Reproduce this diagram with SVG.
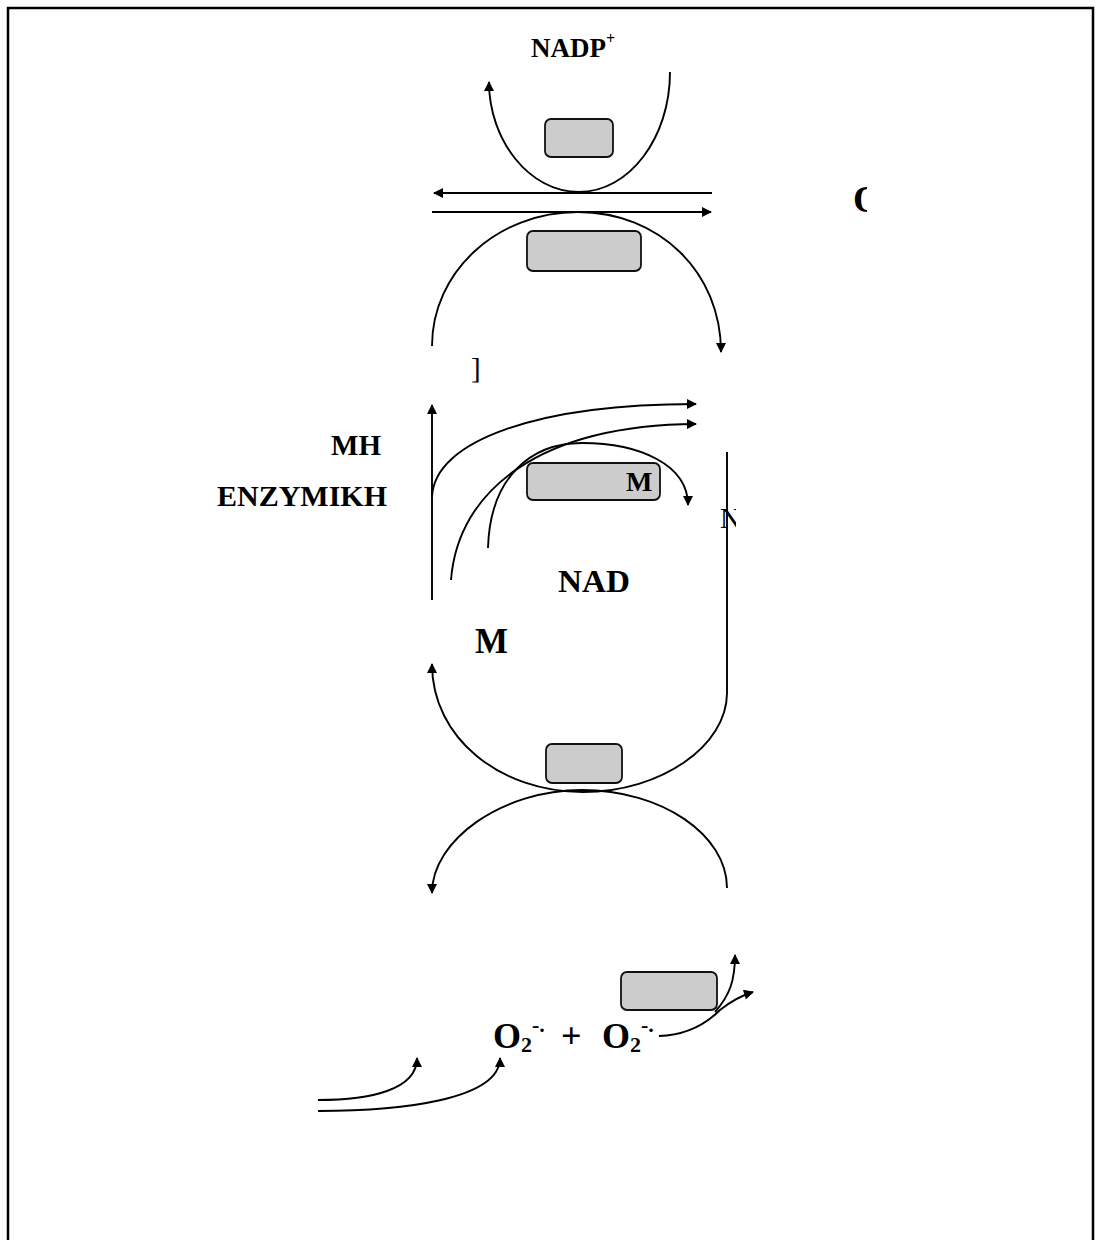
<svg xmlns="http://www.w3.org/2000/svg" width="1100" height="1240" viewBox="0 0 1100 1240">
<style>
.frame{stroke:#000;stroke-width:2.5;fill:none}
.box{fill:#cccccc;stroke:#111;stroke-width:1.8}
.c{fill:none;stroke:#000;stroke-width:1.9}
.t{font-family:"Liberation Serif","Times New Roman",serif;font-weight:bold;fill:#000}
.n{font-family:"Liberation Serif","Times New Roman",serif;font-weight:normal;fill:#000}
</style>
<defs>
<marker id="ah" viewBox="0 0 10 10" refX="9" refY="5" markerWidth="12" markerHeight="10" markerUnits="userSpaceOnUse" orient="auto">
<path d="M0,0 L10,5 L0,10 z" fill="#000"/>
</marker>
<clipPath id="clipN"><rect x="700" y="490" width="36" height="50"/></clipPath>
<clipPath id="clipO"><rect x="840" y="170" width="27" height="60"/></clipPath>
</defs>
<rect width="1100" height="1240" fill="#fff"/>
<g id="frame">
<path class="frame" d="M8,1240 L8,8 L1093,8 L1093,1240"/>
</g>
<g id="connectors">
<path class="c" d="M670,72 C670,138 629,192 579,192 C529,192 489,140 489,82" marker-end="url(#ah)"/>
<path class="c" d="M712,193 L434,193" marker-end="url(#ah)"/>
<path class="c" d="M432,212 L711,212" marker-end="url(#ah)"/>
<path class="c" d="M432,346 C432,272 497,212 578,212 C659,212 721,272 721,352" marker-end="url(#ah)"/>
<path class="c" d="M432,600 L432,405" marker-end="url(#ah)"/>
<path class="c" d="M432,497 C434,440 540,404 696,404" marker-end="url(#ah)"/>
<path class="c" d="M451,580 C458,490 540,425 696,424" marker-end="url(#ah)"/>
<path class="c" d="M488,548 C490,478 530,443 582,443 C640,443 688,465 688,505" marker-end="url(#ah)"/>
<path class="c" d="M727,452 L727,693 C727,745 662,792 583,792 C500,792 432,738 432,664" marker-end="url(#ah)"/>
<path class="c" d="M727,888 C727,835 662,790 582,790 C502,790 432,840 432,893" marker-end="url(#ah)"/>
<path class="c" d="M715,1012 C730,995 735,980 735,955" marker-end="url(#ah)"/>
<path class="c" d="M659,1036 C690,1035 708,1022 720,1010 C730,1002 740,996 753,992" marker-end="url(#ah)"/>
<path class="c" d="M318,1100 C370,1100 417,1090 417,1058" marker-end="url(#ah)"/>
<path class="c" d="M318,1111 C400,1111 500,1100 500,1058" marker-end="url(#ah)"/>
</g>
<g id="box1"><rect class="box" x="545" y="119" width="68" height="38" rx="6"/></g>
<g id="box2"><rect class="box" x="527" y="231" width="114" height="40" rx="6"/></g>
<g id="box3"><rect class="box" x="527" y="463" width="133" height="37" rx="6"/>
<text class="t" x="626" y="491" font-size="28">M</text></g>
<g id="box5"><rect class="box" x="546" y="744" width="76" height="39" rx="6"/></g>
<g id="box4"><rect class="box" x="621" y="972" width="96" height="38" rx="6"/></g>
<g id="label-nadp"><text class="t" x="531" y="57" font-size="27">NADP<tspan font-size="16" dy="-13">+</tspan></text></g>
<g id="label-o-clip"><text class="t" x="853" y="212" font-size="38" clip-path="url(#clipO)">O</text></g>
<g id="label-bracket"><text class="n" x="471" y="378" font-size="29">]</text></g>
<g id="label-mh"><text class="t" x="331" y="455" font-size="29" textLength="50" lengthAdjust="spacingAndGlyphs">MH</text></g>
<g id="label-enzymikh"><text class="t" x="217" y="506" font-size="30" textLength="170" lengthAdjust="spacingAndGlyphs">ENZYMIKH</text></g>
<g id="label-n-clip"><text class="n" x="720" y="528" font-size="29" clip-path="url(#clipN)">N</text></g>
<g id="label-nad"><text class="t" x="558" y="592" font-size="31" textLength="72" lengthAdjust="spacingAndGlyphs">NAD</text></g>
<g id="label-m"><text class="t" x="475" y="653" font-size="35">M</text></g>
<g id="label-o2">
<text class="t" x="493" y="1048" font-size="36">O<tspan font-size="22" dy="4">2</tspan><tspan font-size="22" dy="-20">-.</tspan></text>
<text class="t" x="561" y="1048" font-size="36">+</text>
<text class="t" x="602" y="1048" font-size="36">O<tspan font-size="22" dy="4">2</tspan><tspan font-size="22" dy="-20">-.</tspan></text>
</g>
</svg>
